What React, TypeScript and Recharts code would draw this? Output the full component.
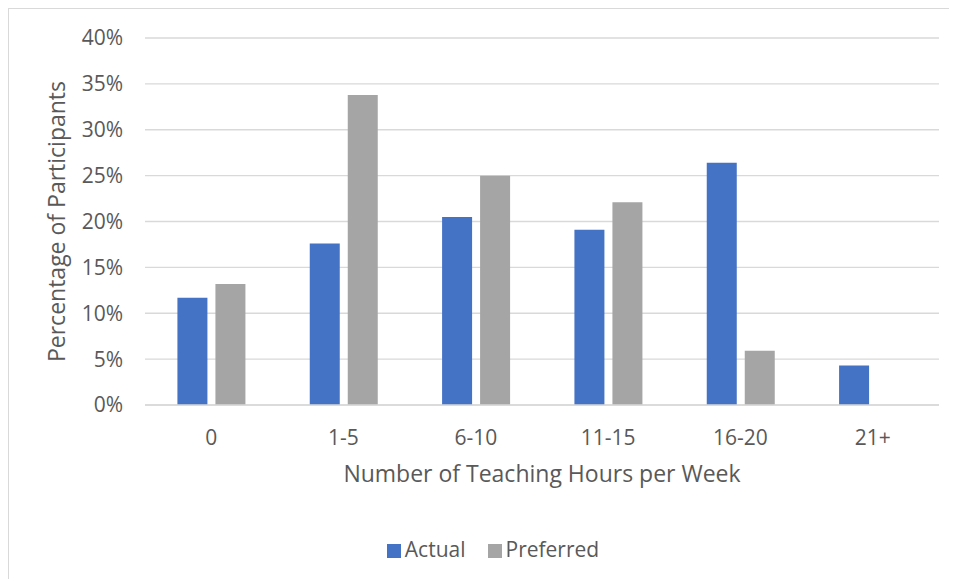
import { Bar, BarChart, CartesianGrid, Label, Legend, XAxis, YAxis } from "recharts";

const categories = ["0", "1-5", "6-10", "11-15", "16-20", "21+"];
const actual = [11.7, 17.6, 20.5, 19.1, 26.4, 4.3];
const preferred = [13.2, 33.8, 25.0, 22.1, 5.9, 0];
const yTicks = [0, 5, 10, 15, 20, 25, 30, 35, 40];

const data = categories.map((name, i) => ({
  name,
  Actual: actual[i],
  Preferred: preferred[i],
}));

const FONT = "'Open Sans', sans-serif";
const TEXT = "#595959";
const GRID = "#d9d9d9";

export default function App() {
  return (
    <div
      style={{
        width: 949,
        height: 571,
        borderTop: `1px solid ${GRID}`,
        borderLeft: `1px solid ${GRID}`,
        boxSizing: "border-box",
        fontFamily: FONT,
      }}
    >
      <BarChart
        width={948}
        height={570}
        data={data}
        margin={{ top: 29, right: 18, bottom: 0, left: 0 }}
        barCategoryGap="24.5%"
        barGap={8}
      >
        <CartesianGrid vertical={false} stroke={GRID} strokeWidth={1.3} />
        <XAxis
          dataKey="name"
          height={100}
          axisLine={{ stroke: GRID, strokeWidth: 1.3 }}
          tickLine={false}
          tickSize={0}
          tickMargin={25}
          tick={{ fill: TEXT, fontSize: 21, fontFamily: FONT }}
        >
          <Label
            value="Number of Teaching Hours per Week"
            position="insideTop"
            offset={61}
            fill={TEXT}
            fontSize={23}
            fontFamily={FONT}
          />
        </XAxis>
        <YAxis
          width={136}
          domain={[0, 40]}
          ticks={yTicks}
          tickFormatter={(v: number) => `${v}%`}
          axisLine={false}
          tickLine={false}
          tickSize={0}
          tickMargin={22}
          tick={{ fill: TEXT, fontSize: 21, fontFamily: FONT }}
        >
          <Label
            value="Percentage of Participants"
            angle={-90}
            position="center"
            dx={-20}
            fill={TEXT}
            fontSize={23}
            fontFamily={FONT}
          />
        </YAxis>
        <Legend
          verticalAlign="bottom"
          height={74}
          iconType="square"
          iconSize={14}
          wrapperStyle={{ top: 526, bottom: "auto", left: 30, fontSize: 21, fontFamily: FONT }}
          formatter={(value: string) => (
            <span style={{ color: TEXT, marginRight: 12 }}>{value}</span>
          )}
        />
        <Bar dataKey="Actual" fill="#4472C4" isAnimationActive={false} />
        <Bar dataKey="Preferred" fill="#A5A5A5" isAnimationActive={false} />
      </BarChart>
    </div>
  );
}
